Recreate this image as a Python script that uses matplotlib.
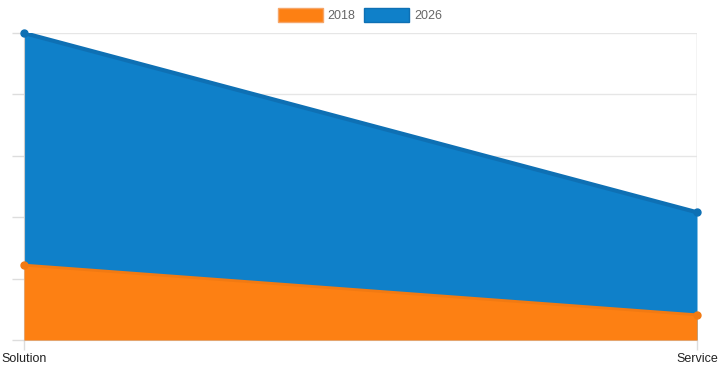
import matplotlib.pyplot as plt
from matplotlib.patches import Patch

plt.rcParams["font.family"] = ["Liberation Sans", "DejaVu Sans"]

categories = ["Solution", "Service"]
series_names = ["2018", "2026"]
values_2018 = [1.22, 0.41]
values_2026 = [5.0, 2.08]

orange = "#fd8013"
blue = "#0f80c9"
blue_line = "#0e70b4"

fig = plt.figure(figsize=(7.2, 3.71), dpi=100)
ax = fig.add_axes([24 / 720, 31 / 371, 673 / 720, 307 / 371])

x = list(range(len(categories)))
ax.fill_between(x, 0, values_2026, color=blue, lw=0, zorder=2)
ax.plot(x, values_2026, color=blue_line, lw=3, zorder=3)
ax.scatter(x, values_2026, color=blue_line, s=25, zorder=4, clip_on=False)
ax.fill_between(x, 0, values_2018, color=orange, lw=0, zorder=5)
ax.plot(x, values_2018, color="#f27a12", lw=2, zorder=6)
ax.scatter(x, values_2018, color="#f27a12", s=25, zorder=7, clip_on=False)

ax.set_xlim(0, 1)
ax.set_ylim(0, 5)
ax.set_xticks(x)
ax.set_xticklabels(categories, fontsize=9, color="#222222")
ax.set_yticks([0, 1, 2, 3, 4, 5])
ax.set_yticklabels([])
ax.tick_params(axis="y", length=9, color="#dddddd", width=1)
ax.tick_params(axis="x", length=7, color="#dddddd", width=1, pad=2)
ax.grid(axis="y", color="#e6e6e6", lw=1, zorder=0)
ax.grid(axis="x", color="#e6e6e6", lw=1, zorder=0)
for side in ["top", "right"]:
    ax.spines[side].set_visible(False)
ax.spines["left"].set_color("#cccccc")
ax.spines["bottom"].set_color("#cccccc")
ax.axvline(1, color="#dddddd", lw=1, zorder=1)

handles = [
    Patch(facecolor=orange, edgecolor="#f5a66a", label=series_names[0]),
    Patch(facecolor=blue, edgecolor=blue_line, label=series_names[1]),
]
fig.legend(handles=handles, loc="upper center", bbox_to_anchor=(0.5, 1.008), ncol=2,
           frameon=False, fontsize=9, labelcolor="#666666", handlelength=3.6,
           handleheight=1.3, handletextpad=0.4, columnspacing=0.7)

fig.savefig("out.png", dpi=100)
